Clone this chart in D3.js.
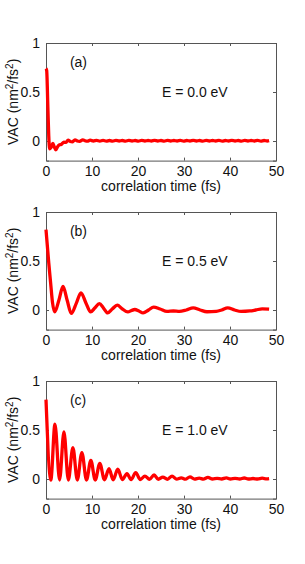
<!DOCTYPE html>
<html>
<head>
<meta charset="utf-8">
<script src="https://cdn.jsdelivr.net/npm/d3@7"></script>
<style>
  body { margin: 0; background: #fff; }
  text { font-family: "Liberation Sans", Arial, sans-serif; }
</style>
</head>
<body>
<div id="frame"></div>
<script>
// panel labels and energies
var panelTags = ["(a)", "(b)", "(c)"];
var energies = ["E = 0.0 eV", "E = 0.5 eV", "E = 1.0 eV"];
var xTicks = [0, 10, 20, 30, 40, 50];
var yTicks = [0, 0.5, 1];

// (a) E = 0.0 eV
var timeA = [0, 0.15, 0.4, 0.6, 0.8, 1.05, 1.5, 1.8, 2.15, 2.5, 2.85, 3.3, 3.9, 4.3, 4.8, 5.3, 5.7, 6.3, 6.8, 7.3, 8.0, 8.6, 9.0, 9.6,
  10.3, 11.0, 11.7, 12.4, 13.1, 13.8, 14.5, 15.2, 15.9, 16.6, 17.3, 18.0, 18.7, 19.4, 20.1, 20.8, 21.5, 22.2, 22.9, 23.6,
  24.3, 25.0, 25.7, 26.4, 27.1, 27.8, 28.5, 29.2, 29.9, 30.6, 31.3, 32.0, 32.7, 33.4, 34.1, 34.8, 35.5, 36.2, 36.9, 37.6,
  38.3, 39.0, 39.7, 40.4, 41.1, 41.8, 42.5, 43.2, 43.9, 44.6, 45.3, 46.0, 46.7, 47.4, 48.1, 48.5];
var vacA = [0.74, 0.72, 0.35, 0.05, -0.08, -0.07, -0.025, -0.06, -0.09, -0.06, -0.04, -0.035, -0.012, -0.015, 0.008, -0.005, -0.008, 0.012, 0.0, -0.004, 0.012, 0.0, -0.002, 0.008,
  0.0, 0.006, -0.002, 0.006, -0.001, 0.005, -0.002, 0.006, 0.0, 0.005, -0.001, 0.006, 0.0, 0.005, -0.001, 0.006, 0.0, 0.005, 0.0, 0.006,
  0.0, 0.005, -0.001, 0.006, 0.0, 0.005, 0.0, 0.006, -0.001, 0.005, 0.0, 0.006, 0.0, 0.005, -0.001, 0.006, 0.0, 0.005, 0.0, 0.006,
  -0.001, 0.005, 0.0, 0.006, 0.0, 0.005, -0.001, 0.006, 0.0, 0.005, 0.0, 0.006, -0.001, 0.005, 0.0, 0.003];

// (b) E = 0.5 eV
var timeB = [0, 0.3, 0.6, 1.0, 1.4, 1.9, 2.8, 3.7, 4.6, 5.5, 6.6, 7.6, 8.7, 9.7, 10.6, 11.6, 12.5, 13.4, 14.4, 15.5, 16.5, 17.8, 18.6, 19.3,
  20.2, 21.1, 22.3, 23.4, 24.8, 26.3, 27.7, 29.0, 30.5, 32.0, 33.5, 35.0, 37.0, 38.2, 39.5, 41.0, 42.4, 44.3, 45.6, 47.0, 48.5];
var vacB = [0.82, 0.65, 0.48, 0.28, 0.08, -0.02, 0.1, 0.24, 0.1, -0.035, 0.07, 0.175, 0.07, -0.02, 0.02, 0.065, 0.02, -0.03, 0.01, 0.05, 0.015, -0.02, -0.005, 0.005,
  -0.01, -0.03, 0.0, 0.03, 0.01, -0.015, -0.01, -0.015, 0.0, 0.022, 0.0, -0.018, -0.014, 0.0, 0.022, 0.0, -0.015, -0.01, 0.0, 0.012, 0.008];

// (c) E = 1.0 eV
var timeC = [0, 1.05, 1.95, 2.95, 3.9, 4.85, 5.85, 6.8, 7.8, 8.8, 9.75, 10.7, 11.7, 12.7, 13.7, 14.6, 15.6, 16.6, 17.6, 18.5, 19.5,
  20.5, 21.5, 22.5, 23.5, 24.4, 25.4, 26.4, 27.4, 28.4, 29.4, 30.3, 31.3, 32.3, 33.3, 34.2, 35.2, 36.2, 37.2, 38.2, 39.2,
  40.1, 41.1, 42.1, 43.1, 44.0, 45.0, 46.0, 47.0, 48.0, 48.5];
var vacC = [0.81, -0.01, 0.56, -0.01, 0.48, -0.01, 0.32, -0.01, 0.27, -0.01, 0.19, -0.01, 0.16, -0.008, 0.105, -0.008, 0.1, -0.006, 0.055, -0.006, 0.065,
  -0.005, 0.03, -0.004, 0.042, -0.003, 0.02, -0.003, 0.03, -0.002, 0.012, -0.002, 0.022, -0.001, 0.008, -0.001, 0.016, 0.0, 0.006, 0.0, 0.012,
  0.0, 0.006, 0.0, 0.01, 0.0, 0.005, 0.0, 0.008, 0.002, 0.004];

var series = [[timeA, vacA], [timeB, vacB], [timeC, vacC]];

var svg = d3.select('#frame').append('svg').attr('width', 305).attr('height', 564);

var left = 46, right = 276, plotH = 117.6, step = 169, firstTop = 43;

var x = d3.scaleLinear().domain([0, 50]).range([left, right]);

series.forEach(function(s, i) {
  var top = firstTop + i * step;
  var y = d3.scaleLinear().domain([-0.2, 1]).range([top + plotH, top]);
  var g = svg.append('g');

  // box axes, ticks inside
  var bottomAx = d3.axisBottom(x).tickValues(xTicks).tickSize(-3).tickPadding(5).tickFormat(d3.format('d'));
  var leftAx = d3.axisLeft(y).tickValues(yTicks).tickSize(-3).tickPadding(6).tickFormat(function(d) { return d === 0.5 ? '0.5' : d3.format('d')(d); });
  var topAx = d3.axisTop(x).tickValues(xTicks).tickSize(-3).tickFormat('');
  var rightAx = d3.axisRight(y).tickValues(yTicks).tickSize(-3).tickFormat('');

  var gb = g.append('g').attr('transform', 'translate(0,' + (top + plotH) + ')').call(bottomAx);
  var gl = g.append('g').attr('transform', 'translate(' + left + ',0)').call(leftAx);
  var gt = g.append('g').attr('transform', 'translate(0,' + top + ')').call(topAx);
  var gr = g.append('g').attr('transform', 'translate(' + right + ',0)').call(rightAx);

  [gb, gl, gt, gr].forEach(function(a) {
    a.selectAll('path.domain').attr('stroke', '#555').attr('stroke-width', 1);
    a.selectAll('line').attr('stroke', '#555');
    a.selectAll('text').attr('font-size', 14).attr('fill', '#111')
      .style('font-family', '"Liberation Sans", Arial, sans-serif');
  });

  // data line, on top of the box
  var pts = d3.zip(s[0], s[1]);
  g.append('path')
    .datum(pts)
    .attr('fill', 'none')
    .attr('stroke', '#ff0000')
    .attr('stroke-width', 3.3)
    .attr('stroke-linejoin', 'round')
    .attr('d', d3.line()
      .x(function(d) { return x(d[0]); })
      .y(function(d) { return y(d[1]); })
      .curve(d3.curveMonotoneX));

  // x label
  g.append('text')
    .attr('x', (left + right) / 2)
    .attr('y', top + plotH + 30)
    .attr('text-anchor', 'middle')
    .attr('font-size', 14)
    .attr('fill', '#111')
    .text('correlation time (fs)');

  // y label
  var yl = g.append('text')
    .attr('transform', 'translate(18,' + (top + plotH / 2) + ') rotate(-90)')
    .attr('text-anchor', 'middle')
    .attr('font-size', 14)
    .attr('fill', '#111');
  yl.append('tspan').text('VAC (nm');
  yl.append('tspan').attr('font-size', 10).attr('dy', -5).text('2');
  yl.append('tspan').attr('dy', 5).text('/fs');
  yl.append('tspan').attr('font-size', 10).attr('dy', -5).text('2');
  yl.append('tspan').attr('dy', 5).text(')');

  // panel tag and energy
  g.append('text')
    .attr('x', x(5.2))
    .attr('y', y(0.76))
    .attr('font-size', 14)
    .attr('fill', '#111')
    .text(panelTags[i]);
  g.append('text')
    .attr('x', x(25.2))
    .attr('y', y(0.445))
    .attr('font-size', 14)
    .attr('fill', '#111')
    .text(energies[i]);
});
</script>
</body>
</html>
